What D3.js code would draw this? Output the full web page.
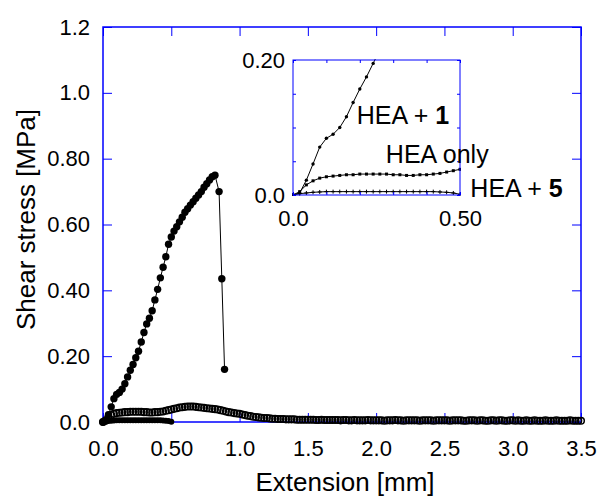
<!DOCTYPE html>
<html lang="en">
<head>
  <meta charset="UTF-8">
  <title>Shear stress vs extension</title>
  <script src="https://cdn.jsdelivr.net/npm/d3@7"></script>
  <style>
    body { margin: 0; background: #fff; }
    svg { display: block; font-family: 'Liberation Sans', Arial, sans-serif; }
  </style>
</head>
<body>
<script>
  // sampling step of the tester (mm) for the two flat series
  const step = 0.02

  // HEA + 1 : extension [mm] / shear stress [MPa]
  const hea1X = [0, 0.02, 0.04, 0.06, 0.08, 0.10, 0.12, 0.14, 0.16, 0.18, 0.20, 0.22, 0.24, 0.26, 0.28,
    0.30, 0.32, 0.34, 0.36, 0.38, 0.40, 0.42, 0.44, 0.46, 0.48, 0.50, 0.52, 0.54, 0.56, 0.58,
    0.60, 0.62, 0.64, 0.66, 0.68, 0.70, 0.72, 0.74, 0.76, 0.78, 0.80, 0.82, 0.85, 0.87, 0.89]
  const hea1Y = [0, 0.003, 0.022, 0.046, 0.071, 0.084, 0.090, 0.100, 0.116, 0.137, 0.157, 0.175, 0.195, 0.215, 0.243,
    0.272, 0.298, 0.315, 0.338, 0.371, 0.403, 0.438, 0.470, 0.502, 0.540, 0.562, 0.580, 0.593, 0.608, 0.622,
    0.637, 0.648, 0.659, 0.669, 0.680, 0.690, 0.700, 0.713, 0.724, 0.735, 0.745, 0.750, 0.700, 0.435, 0.160]

  // HEA only : shear stress every 0.02 mm from 0 to 3.5 mm
  const heaOnlyY = [
    0, 0.005, 0.015, 0.021, 0.025, 0.027, 0.028, 0.029, 0.030, 0.030, 0.031, 0.031, 0.031,
    0.031, 0.031, 0.030, 0.030, 0.029, 0.029, 0.030, 0.030, 0.031, 0.032, 0.034, 0.036, 0.038,
    0.040, 0.042, 0.044, 0.045, 0.046, 0.047, 0.047, 0.047, 0.046, 0.045, 0.044, 0.043, 0.042,
    0.041, 0.040, 0.039, 0.038, 0.036, 0.034, 0.032, 0.030, 0.029, 0.027, 0.026, 0.025,
    0.023, 0.021, 0.019, 0.018, 0.016, 0.015, 0.014, 0.013, 0.012, 0.012, 0.011, 0.010, 0.010,
    0.009, 0.009, 0.009, 0.008, 0.008, 0.008, 0.008, 0.007, 0.007, 0.007, 0.007, 0.007,
    0.007, 0.007, 0.006, 0.006, 0.007, 0.006, 0.006, 0.006, 0.006, 0.006, 0.006, 0.005, 0.006,
    0.006, 0.005, 0.005, 0.006, 0.005, 0.005, 0.005, 0.005, 0.006, 0.005, 0.005, 0.005,
    0.005, 0.005, 0.004, 0.005, 0.005, 0.005, 0.006, 0.005, 0.005, 0.004, 0.005, 0.005, 0.005,
    0.005, 0.005, 0.004, 0.005, 0.005, 0.005, 0.005, 0.004, 0.005, 0.005, 0.005, 0.005,
    0.005, 0.004, 0.005, 0.005, 0.005, 0.005, 0.004, 0.004, 0.005, 0.005, 0.005, 0.004, 0.005,
    0.005, 0.004, 0.004, 0.005, 0.005, 0.004, 0.005, 0.005, 0.004, 0.004, 0.005, 0.005,
    0.004, 0.005, 0.004, 0.004, 0.005, 0.004, 0.004, 0.005, 0.004, 0.004, 0.004, 0.005, 0.004,
    0.004, 0.004, 0.005, 0.004, 0.004, 0.004, 0.004, 0.005, 0.004, 0.004, 0.004, 0.004]

  // HEA + 5 : shear stress every 0.02 mm from 0 to 0.5 mm
  const hea5Y = [0, 0.002, 0.003, 0.004, 0.0045, 0.005, 0.005, 0.005, 0.005, 0.005, 0.005, 0.005, 0.005,
    0.005, 0.005, 0.005, 0.005, 0.005, 0.005, 0.005, 0.005, 0.005, 0.0045, 0.004, 0.003, 0.001]

  const xTicks = [0, 0.5, 1.0, 1.5, 2.0, 2.5, 3.0, 3.5]
  const xTickLabels = ['0.0', '0.50', '1.0', '1.5', '2.0', '2.5', '3.0', '3.5']
  const yTicks = [0, 0.2, 0.4, 0.6, 0.8, 1.0, 1.2]
  const yTickLabels = ['0.0', '0.20', '0.40', '0.60', '0.80', '1.0', '1.2']
  const insetXTicks = [0, 0.1, 0.2, 0.3, 0.4, 0.5]
  const insetXTickLabels = ['0.0', '', '', '', '', '0.50']
  const insetYTicks = [0, 0.05, 0.1, 0.15, 0.2]
  const insetYTickLabels = ['0.0', '', '', '', '0.20']

  const hea1 = hea1X.map((d, i) => ({ x: d, y: hea1Y[i] }))
  const heaOnly = heaOnlyY.map((d, i) => ({ x: i * step, y: d }))
  const hea5 = hea5Y.map((d, i) => ({ x: i * step, y: d }))

  const width = 601
  const height = 498
  const margin = { top: 27, right: 20, bottom: 76, left: 103 }
  const blue = '#0000ff'
  const tickFont = 22
  const labelFont = 25

  const svg = d3.select('body').append('svg')
    .attr('width', width).attr('height', height)
    .attr('viewBox', [0, 0, width, height])

  const x = d3.scaleLinear().domain([0, 3.5]).range([margin.left, width - margin.right])
  const y = d3.scaleLinear().domain([0, 1.2]).range([height - margin.bottom, margin.top])

  const styleAxis = (g, fs) => g
    .attr('font-size', fs).attr('font-family', null)
    .call(g => g.select('.domain').remove())
    .call(g => g.selectAll('line').attr('stroke', blue))
    .call(g => g.selectAll('text').attr('fill', '#000'))

  function drawAxes(g, sx, sy, o) {
    const [x0, x1] = sx.range()
    const [y0, y1] = sy.range()
    g.append('g').attr('transform', `translate(0,${ y0 })`)
      .call(d3.axisBottom(sx).tickValues(o.xt).tickFormat((d, i) => o.xl[i])
        .tickSizeInner(-o.tick).tickSizeOuter(0).tickPadding(o.xpad))
      .call(g => styleAxis(g, o.fs))
    g.append('g').attr('transform', `translate(0,${ y1 })`)
      .call(d3.axisTop(sx).tickValues(o.xt).tickFormat('')
        .tickSizeInner(-o.tick).tickSizeOuter(0))
      .call(g => styleAxis(g, o.fs))
    g.append('g').attr('transform', `translate(${ x0 },0)`)
      .call(d3.axisLeft(sy).tickValues(o.yt).tickFormat((d, i) => o.yl[i])
        .tickSizeInner(-o.tick).tickSizeOuter(0).tickPadding(o.ypad))
      .call(g => styleAxis(g, o.fs))
    g.append('g').attr('transform', `translate(${ x1 },0)`)
      .call(d3.axisRight(sy).tickValues(o.yt).tickFormat('')
        .tickSizeInner(-o.tick).tickSizeOuter(0))
      .call(g => styleAxis(g, o.fs))
    g.append('rect')
      .attr('x', x0).attr('y', y1)
      .attr('width', x1 - x0).attr('height', y0 - y1)
      .attr('fill', 'none').attr('stroke', blue).attr('stroke-width', o.sw)
  }

  // ---- main plot
  drawAxes(svg.append('g'), x, y,
    { xt: xTicks, xl: xTickLabels, yt: yTicks, yl: yTickLabels, tick: 9, xpad: 18, ypad: 13, fs: tickFont, sw: 1.5 })

  const line = (sx, sy) => d3.line().x(d => sx(d.x)).y(d => sy(d.y))

  const main = svg.append('g')
  main.append('g').selectAll('circle').data(heaOnly).join('circle')
    .attr('cx', d => x(d.x)).attr('cy', d => y(d.y)).attr('r', 3.3)
    .attr('fill', 'none').attr('stroke', '#000').attr('stroke-width', 1.5)
  main.append('g').selectAll('circle').data(hea5).join('circle')
    .attr('cx', d => x(d.x)).attr('cy', d => y(d.y)).attr('r', 3)
    .attr('fill', '#000')
  main.append('path').datum(hea1)
    .attr('d', line(x, y)).attr('fill', 'none').attr('stroke', '#000').attr('stroke-width', 1)
  main.append('g').selectAll('circle').data(hea1).join('circle')
    .attr('cx', d => x(d.x)).attr('cy', d => y(d.y)).attr('r', 3.7)
    .attr('fill', '#000')

  // axis titles
  svg.append('text')
    .attr('x', (x.range()[0] + x.range()[1]) / 2 + 3).attr('y', 491)
    .attr('text-anchor', 'middle').attr('font-size', 26)
    .text('Extension [mm]')
  svg.append('text')
    .attr('transform', `translate(35,${ (y.range()[0] + y.range()[1]) / 2 - 5 }) rotate(-90)`)
    .attr('text-anchor', 'middle').attr('font-size', 26)
    .text('Shear stress [MPa]')

  // ---- inset
  const ix = d3.scaleLinear().domain([0, 0.5]).range([293, 460])
  const iy = d3.scaleLinear().domain([0, 0.2]).range([195, 60])
  const inset = svg.append('g')
  inset.append('rect').attr('x', 293).attr('y', 60).attr('width', 167).attr('height', 135).attr('fill', '#fff')

  svg.append('defs').append('clipPath').attr('id', 'inset-clip')
    .append('rect').attr('x', 292).attr('y', 59).attr('width', 169).attr('height', 137)

  const ig = inset.append('g').attr('clip-path', 'url(#inset-clip)')
  const inRange = d => d.x <= 0.5001

  ig.append('path').datum(heaOnly.filter(inRange))
    .attr('d', line(ix, iy)).attr('fill', 'none').attr('stroke', '#000').attr('stroke-width', 1)
  ig.append('g').selectAll('rect').data(heaOnly.filter(inRange)).join('rect')
    .attr('x', d => ix(d.x) - 1.5).attr('y', d => iy(d.y) - 1.5).attr('width', 3).attr('height', 3)
    .attr('fill', '#000')

  ig.append('path').datum(hea5)
    .attr('d', line(ix, iy)).attr('fill', 'none').attr('stroke', '#000').attr('stroke-width', 1)
  ig.append('g').selectAll('path').data(hea5).join('path')
    .attr('transform', d => `translate(${ ix(d.x) },${ iy(d.y) })`)
    .attr('d', 'M-2,0H2M0,-2V2').attr('stroke', '#000').attr('stroke-width', 1)

  ig.append('path').datum(hea1)
    .attr('d', line(ix, iy)).attr('fill', 'none').attr('stroke', '#000').attr('stroke-width', 1)
  ig.append('g').selectAll('circle').data(hea1.filter(d => d.y <= 0.2)).join('circle')
    .attr('cx', d => ix(d.x)).attr('cy', d => iy(d.y)).attr('r', 1.7)
    .attr('fill', '#000')

  drawAxes(inset.append('g'), ix, iy,
    { xt: insetXTicks, xl: insetXTickLabels, yt: insetYTicks, yl: insetYTickLabels, tick: 3, xpad: 15, ypad: 8, fs: tickFont, sw: 1 })

  // series labels
  const label = (t, b, dx, dy) => {
    const txt = svg.append('text').attr('font-size', labelFont)
      .attr('x', ix(dx)).attr('y', iy(dy))
    txt.append('tspan').text(t)
    txt.append('tspan').attr('font-weight', 'bold').text(b)
  }
  label('HEA + ', '1', 0.191, 0.105)
  label('HEA only', '', 0.278, 0.047)
  label('HEA + ', '5', 0.531, -0.0025)
</script>
</body>
</html>
